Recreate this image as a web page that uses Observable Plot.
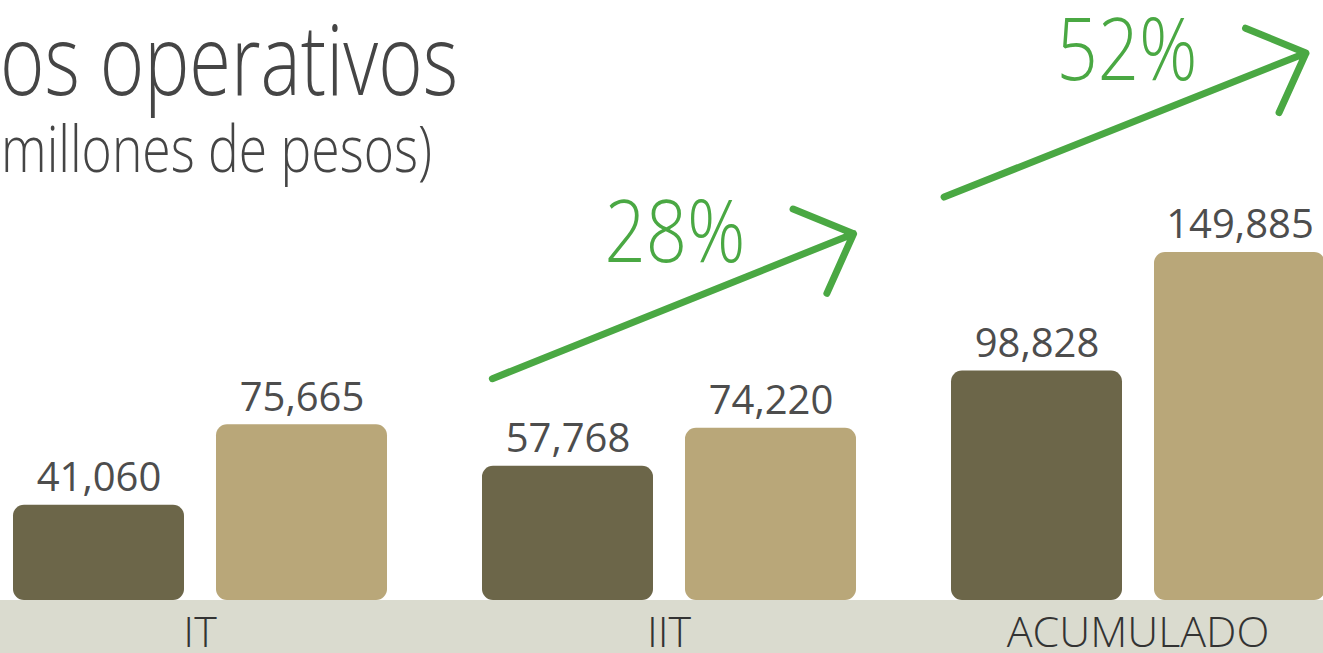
<!DOCTYPE html>
<html>
<head>
<meta charset="utf-8">
<script src="https://cdn.jsdelivr.net/npm/d3@7"></script>
<script src="https://cdn.jsdelivr.net/npm/@observablehq/plot@0.6"></script>
<style>
  html, body { margin: 0; padding: 0; background: #fff; overflow: hidden; }
  #wrap { position: relative; width: 1323px; height: 653px; overflow: hidden; }
  #titles { position: absolute; left: 0; top: 0; pointer-events: none; }
</style>
</head>
<body>
<div id="wrap"></div>
<script>
// ---- data ----
const groups = ["IT", "IIT", "ACUMULADO"];
const series = ["Año anterior", "Año actual"];
const previousYear = [41060, 57768, 98828];
const currentYear = [75665, 74220, 149885];
const growthGroups = ["IIT", "ACUMULADO"];
const growthLabels = ["28%", "52%"];
const titleText = "Ingresos operativos";
const subtitleText = "(millones de pesos)";

const rows = groups.flatMap((g, i) => [
  {group: g, serie: series[0], value: previousYear[i]},
  {group: g, serie: series[1], value: currentYear[i]}
]);

const green = "#4aa843";
const font = "'Open Sans', sans-serif";
const fmt = d3.format(",");

const arrowIIT = [{group: growthGroups[0], from: series[0], to: series[1], y1: 108600, y2: 143700}];
const arrowAcc = [{group: growthGroups[1], from: series[0], to: series[1], y1: 189700, y2: 224500}];
const labelIIT = [{group: growthGroups[0], label: growthLabels[0], y: 145600}];
const labelAcc = [{group: growthGroups[1], label: growthLabels[1], y: 224000}];

const chart = Plot.plot({
  width: 1323,
  height: 653,
  marginTop: 0,
  marginBottom: 53,
  marginLeft: 12,
  marginRight: -3,
  style: {
    fontFamily: font,
    fontSize: "43px",
    fontWeight: 300,
    color: "#333",
    background: "linear-gradient(to bottom, #ffffff 0px, #ffffff 600px, #dadbcf 600px, #dadbcf 100%)",
    overflow: "visible"
  },
  fx: {domain: groups, paddingInner: 0.2, paddingOuter: 0, axis: "bottom", tickSize: 0, tickPadding: 16, label: null},
  x: {domain: series, paddingInner: 0.16, paddingOuter: 0, axis: null},
  y: {domain: [0, 258420], axis: null},
  color: {domain: series, range: ["#6c6649", "#b9a779"]},
  marks: [
    Plot.barY(rows, {fx: "group", x: "serie", y: "value", fill: "serie", rx: 11}),
    Plot.text(rows, {
      fx: "group", x: "serie", y: "value", text: d => fmt(d.value),
      lineAnchor: "bottom", dy: -14, fontSize: 40, fontWeight: 400, fill: "#4d4d4d"
    }),
    Plot.arrow(arrowIIT, {
      fx: "group", x1: "from", x2: "to", y1: "y1", y2: "y2",
      stroke: green, strokeWidth: 7, headAngle: 88, headLength: 14,
      insetStart: -81.5, insetEnd: -89
    }),
    Plot.arrow(arrowAcc, {
      fx: "group", x1: "from", x2: "to", y1: "y1", y2: "y2",
      stroke: green, strokeWidth: 7, headAngle: 88, headLength: 14,
      insetStart: -100, insetEnd: -71
    }),
    Plot.text(labelIIT, {
      fx: "group", y: "y", text: "label", dx: 6, lineAnchor: "bottom",
      fontSize: 86, fontWeight: 300, fill: green, ariaDescription: "growth"
    }),
    Plot.text(labelAcc, {
      fx: "group", y: "y", text: "label", dx: -11, lineAnchor: "bottom",
      fontSize: 86, fontWeight: 300, fill: green, ariaDescription: "growth"
    })
  ]
});

const wrap = document.getElementById("wrap");
wrap.appendChild(chart);

// condense growth labels to match the narrow face of the original
d3.select(chart).selectAll('g[aria-description="growth"] text')
  .attr("textLength", 141)
  .attr("lengthAdjust", "spacingAndGlyphs");

// ---- title overlay ----
const tsvg = d3.select(wrap).append("svg")
  .attr("id", "titles").attr("width", 1323).attr("height", 200);

function fittedText(full, visiblePart, size, rightX, baseline, visibleWidth) {
  const probe = tsvg.append("text")
    .attr("font-family", font).attr("font-size", size).attr("font-weight", 300)
    .text(visiblePart);
  const w = probe.node().getComputedTextLength();
  probe.remove();
  const k = visibleWidth / w;
  tsvg.append("text")
    .attr("transform", `translate(${rightX},${baseline}) scale(${k},1)`)
    .attr("text-anchor", "end")
    .attr("font-family", font).attr("font-size", size).attr("font-weight", 300)
    .attr("fill", "#454545")
    .text(full);
}
fittedText(titleText, "os operativos", 98, 458, 95, 458);
fittedText(subtitleText, "millones de pesos)", 64, 432, 172, 431);
</script>
</body>
</html>
